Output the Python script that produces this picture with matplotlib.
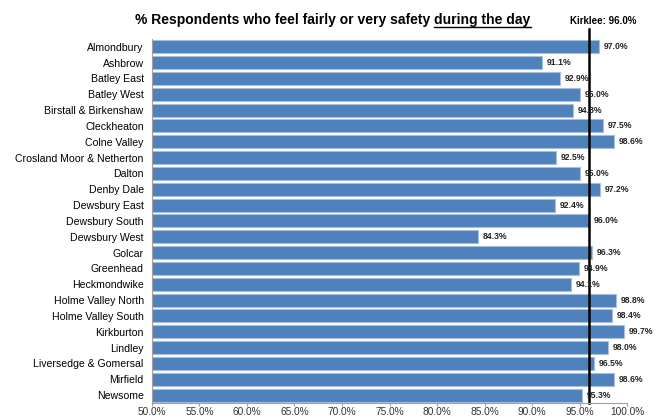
import numpy as np
import matplotlib.pyplot as plt
from matplotlib.ticker import FuncFormatter

# datos
wards = ['Almondbury', 'Ashbrow', 'Batley East', 'Batley West', 'Birstall & Birkenshaw',
         'Cleckheaton', 'Colne Valley', 'Crosland Moor & Netherton', 'Dalton', 'Denby Dale',
         'Dewsbury East', 'Dewsbury South', 'Dewsbury West', 'Golcar', 'Greenhead',
         'Heckmondwike', 'Holme Valley North', 'Holme Valley South', 'Kirkburton', 'Lindley',
         'Liversedge & Gomersal', 'Mirfield', 'Newsome']
safe_day = [97.0, 91.1, 92.9, 95.0, 94.3, 97.5, 98.6, 92.5, 95.0, 97.2, 92.4, 96.0,
            84.3, 96.3, 94.9, 94.1, 98.8, 98.4, 99.7, 98.0, 96.5, 98.6, 95.3]
kirklees = 96.0
xticks = [50, 55, 60, 65, 70, 75, 80, 85, 90, 95, 100]

plt.rcParams['font.family'] = ['Liberation Sans', 'DejaVu Sans']

fig = plt.figure(figsize=(6.56, 4.18), dpi=100)
ax = fig.add_axes([0.2317, 0.036, 0.7241, 0.871])

y = np.arange(len(wards))
ax.barh(y, safe_day, left=0, height=0.82, color='#4F81BD', edgecolor='#A7BFDE', linewidth=0.8)
ax.set_xlim(50, 100)
ax.set_ylim(len(wards) - 0.5, -0.5)
ax.set_yticks(y)
ax.set_yticklabels(wards, fontsize=7.6)
ax.set_xticks(xticks)
ax.xaxis.set_major_formatter(FuncFormatter(lambda v, p: '%.1f%%' % v))
ax.tick_params(axis='x', labelsize=7.3, length=2, color='#A0A0A0', pad=1, labelcolor='#333333')
ax.tick_params(axis='y', length=0, pad=6)
for s in ['top', 'right']:
    ax.spines[s].set_visible(False)
ax.spines['left'].set_color('#A0A0A0')
ax.spines['bottom'].set_color('#A0A0A0')

for yi, v in zip(y, safe_day):
    ax.text(v + 0.5, yi, '%.1f%%' % v, va='center', ha='left', fontsize=6.2,
            fontweight='bold', color='#222222')

# linea de Kirklees
ax.plot([kirklees, kirklees], [len(wards) - 0.5, -1.15], color='black', lw=1.8,
        clip_on=False)
ax.text(kirklees + 1.5, -1.65, 'Kirklee: %.1f%%' % kirklees, fontsize=7, fontweight='bold',
        ha='center', va='center', transform=ax.transData)

# titulo con parte subrayada
t1 = fig.text(0.206, 0.942, '% Respondents who feel fairly or very safety ', fontsize=10,
              fontweight='bold', ha='left', va='baseline')
fig.canvas.draw()
r = fig.canvas.get_renderer()
bb = t1.get_window_extent(r)
t2 = fig.text(bb.x1 / fig.bbox.width, 0.942, 'during the day', fontsize=10,
              fontweight='bold', ha='left', va='baseline')
bb2 = t2.get_window_extent(r)
uy = 0.942 - 3.0 / fig.bbox.height
fig.add_artist(plt.Line2D([bb2.x0 / fig.bbox.width, bb2.x1 / fig.bbox.width], [uy, uy],
                          color='black', lw=1.0, transform=fig.transFigure))

plt.savefig('out.png', dpi=100)
